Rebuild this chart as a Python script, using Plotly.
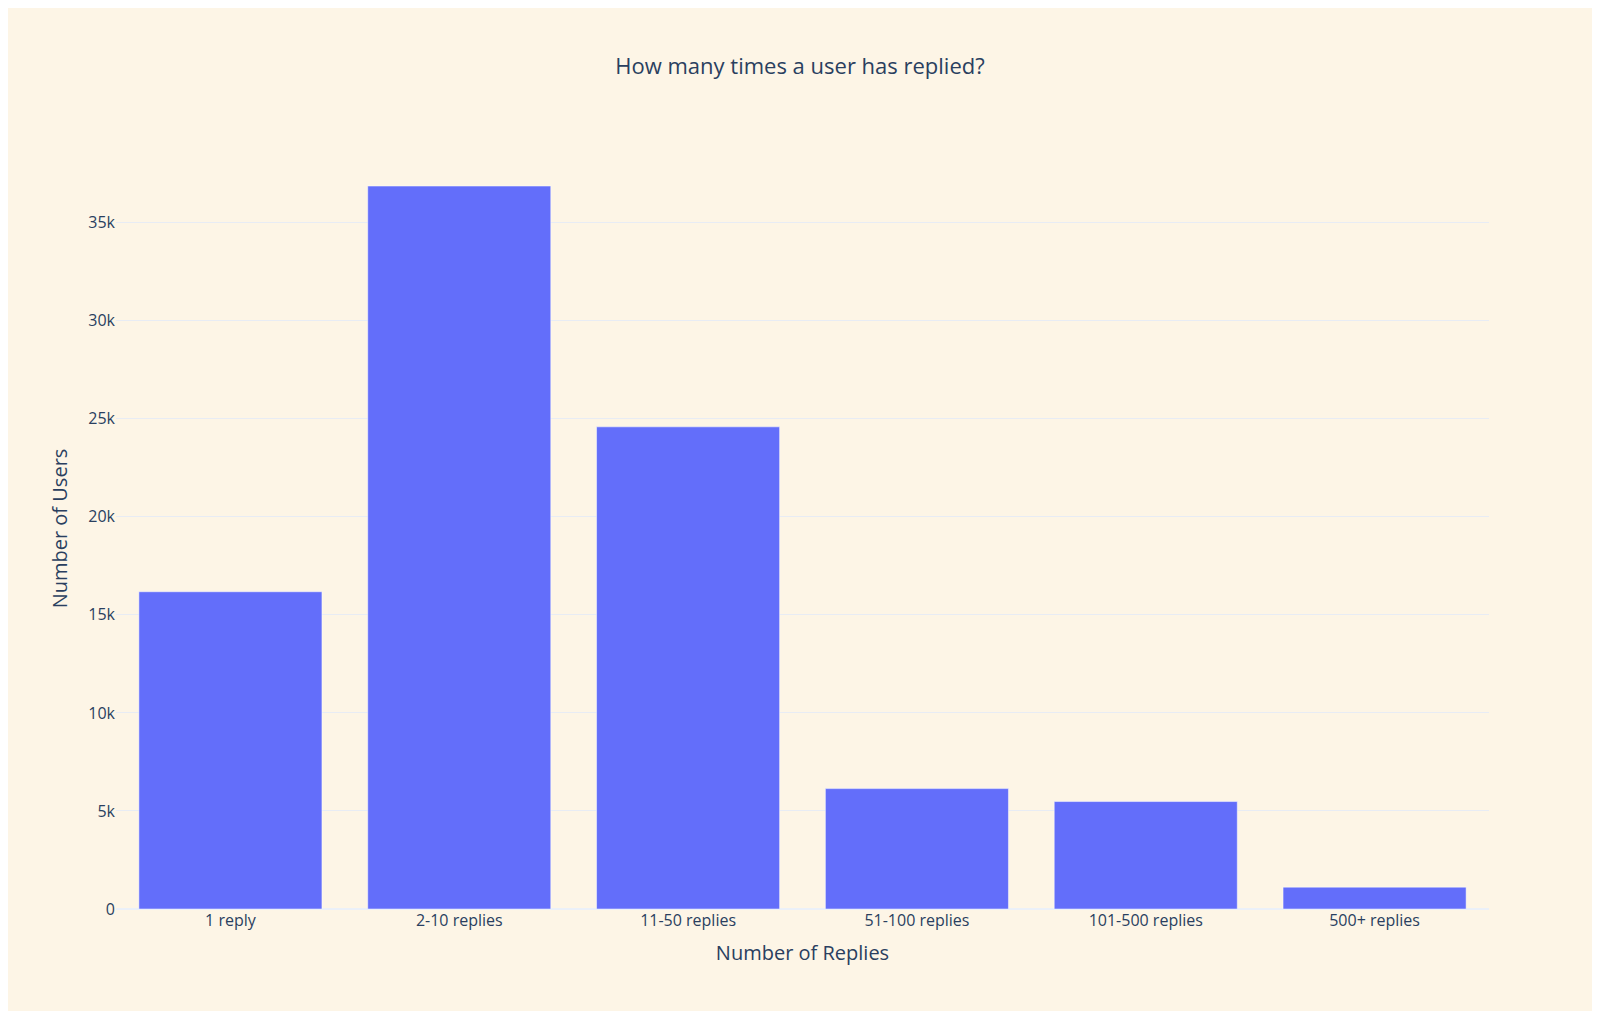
import plotly.graph_objects as go

categories = ["1 reply", "2-10 replies", "11-50 replies", "51-100 replies", "101-500 replies", "500+ replies"]
users = [16180, 36870, 24590, 6140, 5480, 1115]

fig = go.Figure(go.Bar(x=categories, y=users, marker_color="#636efa"))

fig.update_layout(
    template="plotly_white",
    title=dict(text="How many times a user has replied?", x=0.5, xanchor="center", y=0.95,
               font=dict(size=22)),
    font=dict(family="Open Sans", size=16, color="#2a3f5f"),
    paper_bgcolor="#fdf5e6",
    plot_bgcolor="#fdf5e6",
    xaxis_title="Number of Replies",
    yaxis_title="Number of Users",
    margin=dict(l=108, r=103, t=140, b=102),
)
fig.update_xaxes(title_font=dict(size=20))
fig.update_yaxes(title_font=dict(size=20), gridcolor="#e8ecf4")

fig.write_html("out.html")
